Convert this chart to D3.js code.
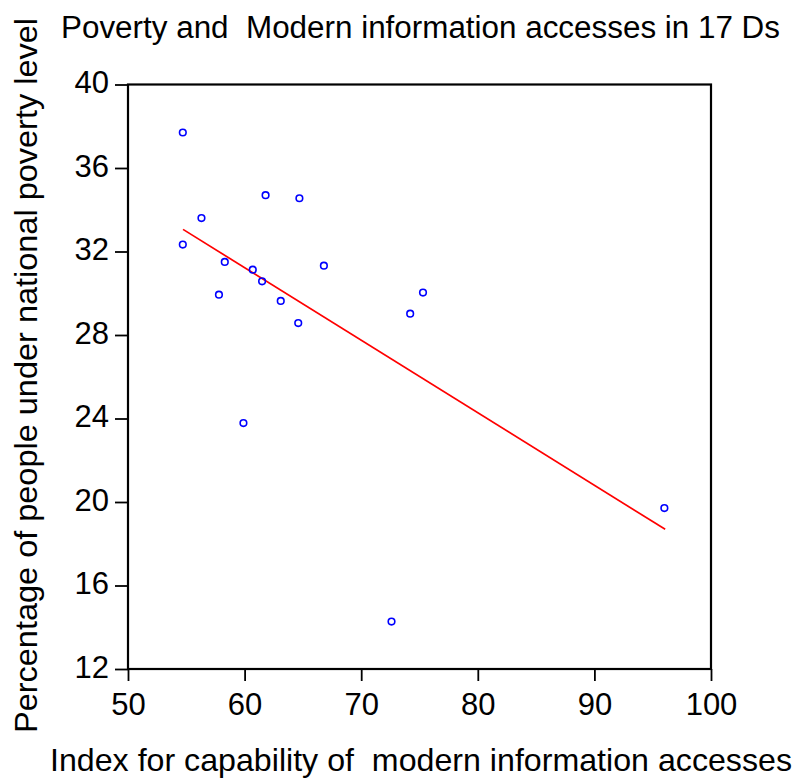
<!DOCTYPE html>
<html>
<head>
<meta charset="utf-8">
<script src="https://cdn.jsdelivr.net/npm/d3@7/dist/d3.min.js"></script>
<style>
  html, body { margin: 0; padding: 0; background: #fff; }
  text { font-family: "Liberation Sans", Arial, sans-serif; fill: #000; white-space: pre; }
</style>
</head>
<body>
<svg id="chart" width="800" height="780"></svg>
<script>
// ---- Data ----
const xValues = [54.7, 61.8, 64.7, 56.3, 54.7, 58.3, 60.7, 61.5, 66.8, 57.8, 63.1, 64.6, 75.3, 74.2, 72.6, 96.0, 59.9];
const yValues = [37.7, 34.7, 34.55, 33.6, 32.33, 31.5, 31.13, 30.57, 31.32, 29.93, 29.63, 28.57, 30.03, 29.02, 14.27, 19.71, 23.78];
const fitX = [54.72, 96.07];
const fitY = [33.06, 18.69];
const xTicks = [50, 60, 70, 80, 90, 100];
const yTicks = [12, 16, 20, 24, 28, 32, 36, 40];
const titleText = "Poverty and  Modern information accesses in 17 Ds";
const xLabel = "Index for capability of  modern information accesses";
const yLabel = "Percentage of people under national poverty level";

(function () {
const svg = d3.select("#chart");
const pl = 128, pr = 711, pt = 84.5, pb = 669;

const x = d3.scaleLinear().domain([50, 100]).range([pl, pr]);
const y = d3.scaleLinear().domain([12, 40]).range([pb, pt]);

// frame
svg.append("rect")
  .attr("x", pl).attr("y", pt)
  .attr("width", pr - pl).attr("height", pb - pt)
  .attr("fill", "none").attr("stroke", "#000").attr("stroke-width", 2.2);

// x axis
const xAxis = svg.append("g")
  .attr("transform", `translate(0,${pb})`)
  .call(d3.axisBottom(x).tickValues(xTicks).tickSize(12).tickSizeOuter(0).tickPadding(4));
xAxis.select(".domain").remove();
xAxis.selectAll(".tick line").attr("stroke", "#000").attr("stroke-width", 1.8);
xAxis.selectAll(".tick text")
  .attr("font-size", 31).attr("font-family", "Liberation Sans, Arial, sans-serif")
  .attr("dy", null).attr("y", 46);

// y axis
const yAxis = svg.append("g")
  .attr("transform", `translate(${pl},0)`)
  .call(d3.axisLeft(y).tickValues(yTicks).tickSize(13).tickSizeOuter(0).tickPadding(4));
yAxis.select(".domain").remove();
yAxis.selectAll(".tick line").attr("stroke", "#000").attr("stroke-width", 1.8);
yAxis.selectAll(".tick text")
  .attr("font-size", 31).attr("font-family", "Liberation Sans, Arial, sans-serif")
  .attr("x", -19).attr("dy", null).attr("y", 8);

// fit line
svg.append("line")
  .attr("x1", x(fitX[0])).attr("y1", y(fitY[0]))
  .attr("x2", x(fitX[1])).attr("y2", y(fitY[1]))
  .attr("stroke", "#ff0000").attr("stroke-width", 1.7);

// points
svg.append("g").selectAll("circle")
  .data(xValues.map((v, i) => [v, yValues[i]]))
  .join("circle")
  .attr("cx", d => x(d[0])).attr("cy", d => y(d[1]))
  .attr("r", 3.3)
  .attr("fill", "none").attr("stroke", "#0000ff").attr("stroke-width", 1.6);

// title
svg.append("text")
  .attr("x", 61).attr("y", 38)
  .attr("font-size", 31)
  .attr("textLength", 719).attr("lengthAdjust", "spacingAndGlyphs")
  .text(titleText);

// x label
svg.append("text")
  .attr("x", 50).attr("y", 771)
  .attr("font-size", 32)
  .attr("textLength", 742).attr("lengthAdjust", "spacingAndGlyphs")
  .text(xLabel);

// y label
svg.append("text")
  .attr("transform", "translate(37,733) rotate(-90)")
  .attr("x", 0).attr("y", 0)
  .attr("font-size", 31)
  .attr("textLength", 715).attr("lengthAdjust", "spacingAndGlyphs")
  .text(yLabel);
})();
</script>
</body>
</html>
